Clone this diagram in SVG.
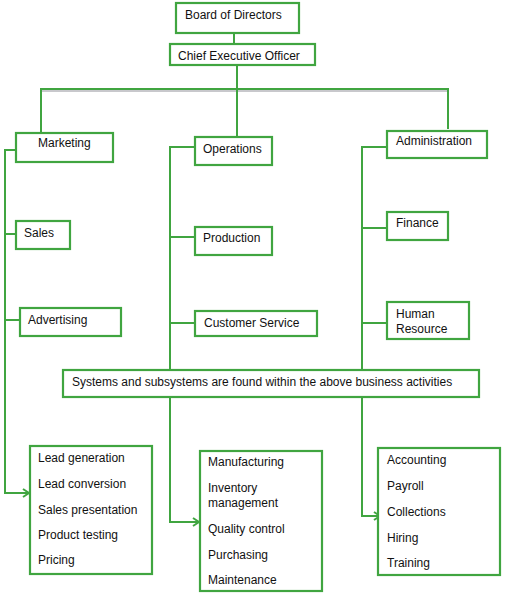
<svg xmlns="http://www.w3.org/2000/svg" width="507" height="595" viewBox="0 0 507 595">
<style>
.box{fill:#fff;stroke:#40a540;stroke-width:2.2}
.ln{fill:none;stroke:#40a540;stroke-width:2}
text{font-family:"Liberation Sans",Arial,sans-serif;font-size:12px;fill:#111}
</style>
<defs>
<marker id="ar" viewBox="0 0 10 10" refX="9" refY="5" markerWidth="10" markerHeight="10" markerUnits="userSpaceOnUse" orient="auto">
<path d="M3,1 L9,5 L3,9" fill="none" stroke="#40a540" stroke-width="2"/>
</marker>
</defs>
<rect width="507" height="595" fill="#fff"/>
<g id="connectors">
<line x1="234" y1="33" x2="234" y2="44" class="ln"/>
<line x1="237" y1="65" x2="237" y2="89" class="ln"/>
<line x1="41" y1="91" x2="448" y2="91" stroke="#c8c8cc" stroke-width="2"/>
<line x1="40" y1="89" x2="449" y2="89" class="ln" stroke-width="2.4"/>
<line x1="41" y1="89" x2="41" y2="133" class="ln"/>
<line x1="237" y1="89" x2="237" y2="137" class="ln"/>
<line x1="448" y1="89" x2="448" y2="129" class="ln"/>
<path d="M16,150 H5 V493 H29" class="ln" stroke="#5cb85c" marker-end="url(#ar)"/>
<line x1="5" y1="234" x2="16" y2="234" class="ln"/>
<line x1="5" y1="320" x2="20" y2="320" class="ln"/>
<path d="M195,147 H170 V522 H199" class="ln" marker-end="url(#ar)"/>
<line x1="170" y1="237" x2="195" y2="237" class="ln"/>
<line x1="170" y1="323" x2="195" y2="323" class="ln"/>
<path d="M387,147 H362 V516 H380" class="ln" marker-end="url(#ar)"/>
<line x1="362" y1="228" x2="387" y2="228" class="ln"/>
<line x1="362" y1="323" x2="387" y2="323" class="ln"/>
</g>
<g id="board"><rect x="176" y="3" width="123" height="30" class="box"/><text x="185" y="19">Board of Directors</text></g>
<g id="ceo"><rect x="170" y="44" width="145" height="21" class="box"/><text x="178" y="60">Chief Executive Officer</text></g>
<g id="marketing"><rect x="16" y="133" width="97" height="29" class="box"/><text x="38" y="147">Marketing</text></g>
<g id="operations"><rect x="195" y="137" width="77" height="28" class="box"/><text x="203" y="153">Operations</text></g>
<g id="administration"><rect x="387" y="131" width="100" height="27" class="box"/><text x="396" y="145">Administration</text></g>
<g id="sales"><rect x="16" y="221" width="54" height="28" class="box"/><text x="24" y="237">Sales</text></g>
<g id="advertising"><rect x="20" y="308" width="101" height="28" class="box"/><text x="28" y="324">Advertising</text></g>
<g id="production"><rect x="195" y="227" width="77" height="28" class="box"/><text x="203" y="242">Production</text></g>
<g id="customer-service"><rect x="195" y="311" width="122" height="25" class="box"/><text x="204" y="327">Customer Service</text></g>
<g id="finance"><rect x="387" y="212" width="61" height="28" class="box"/><text x="396" y="227">Finance</text></g>
<g id="human-resource"><rect x="387" y="302" width="82" height="37" class="box"/><text x="396" y="318">Human</text><text x="396" y="333">Resource</text></g>
<g id="systems"><rect x="63" y="370" width="416" height="27" class="box"/><text x="72" y="386">Systems and subsystems are found within the above business activities</text></g>
<g id="marketing-subsystems"><rect x="30" y="446" width="122" height="128" class="box"/>
<text x="38" y="462">Lead generation</text><text x="38" y="488">Lead conversion</text><text x="38" y="514">Sales presentation</text><text x="38" y="539">Product testing</text><text x="38" y="564">Pricing</text></g>
<g id="operations-subsystems"><rect x="200" y="451" width="122" height="140" class="box"/>
<text x="208" y="466">Manufacturing</text><text x="208" y="492">Inventory</text><text x="208" y="507">management</text><text x="208" y="533">Quality control</text><text x="208" y="559">Purchasing</text><text x="208" y="584">Maintenance</text></g>
<g id="administration-subsystems"><rect x="378" y="448" width="122" height="127" class="box"/>
<text x="387" y="464">Accounting</text><text x="387" y="490">Payroll</text><text x="387" y="516">Collections</text><text x="387" y="542">Hiring</text><text x="387" y="567">Training</text></g>
</svg>
